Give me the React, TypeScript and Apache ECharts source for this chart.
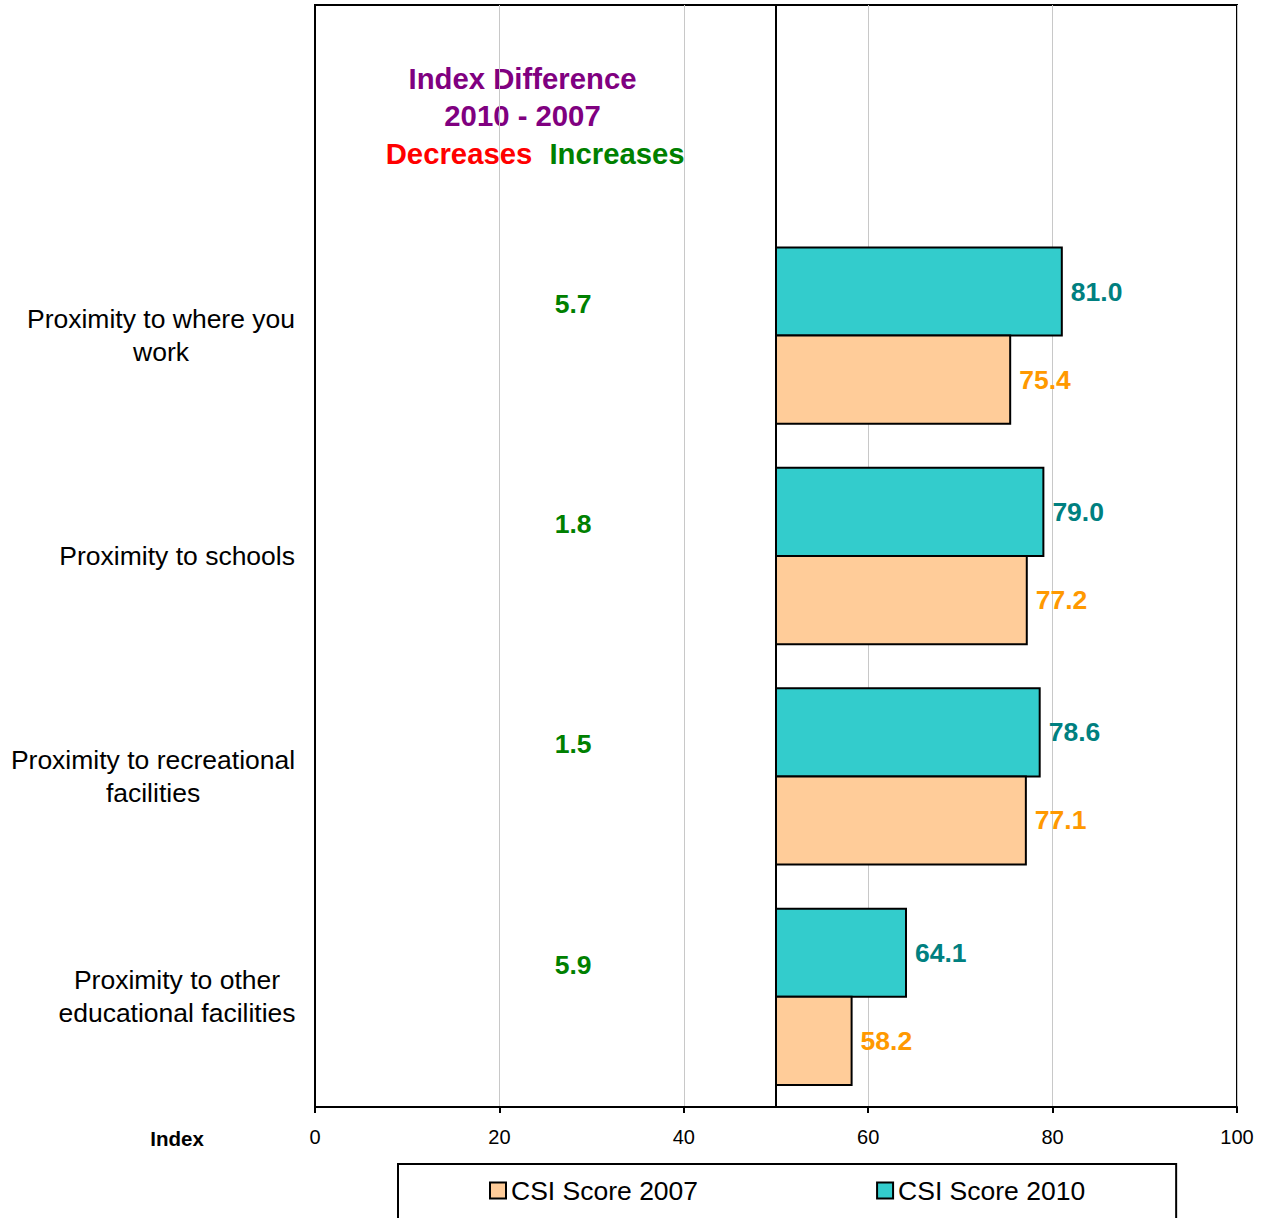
import React, { useEffect, useRef } from "react";
import * as echarts from "echarts";

const categories = [
  "",
  "Proximity to where you\nwork",
  "Proximity to schools",
  "Proximity to recreational\nfacilities",
  "Proximity to other\neducational facilities",
];
const score2010 = [81.0, 79.0, 78.6, 64.1];
const score2007 = [75.4, 77.2, 77.1, 58.2];
const indexDiff = [5.7, 1.8, 1.5, 5.9];
const xTicks = [0, 20, 40, 60, 80, 100];

const BASE = 50;
const DIFF_X = 28;
const FONT = "'Liberation Sans', Arial, Helvetica, sans-serif";

const TEAL = "#33CCCC";
const PEACH = "#FFCC99";
const TEAL_LABEL = "#008080";
const ORANGE_LABEL = "#FF9900";
const GREEN = "#008000";
const PURPLE = "#800080";
const RED = "#FF0000";

function barSeries(name: string, values: number[], fill: string, labelColor: string, upper: boolean) {
  return {
    name,
    type: "custom",
    itemStyle: { color: fill, borderColor: "#000", borderWidth: 2 },
    encode: { x: 0, y: 1 },
    data: values.map((v, i) => [v, i + 1]),
    renderItem: (params: any, api: any) => {
      const v = api.value(0);
      const c = api.value(1);
      const start = api.coord([BASE, c]);
      const end = api.coord([v, c]);
      const band = api.size([0, 1])[1];
      const h = band * 0.4;
      const y = upper ? start[1] - h : start[1];
      return {
        type: "group",
        children: [
          {
            type: "rect",
            shape: { x: start[0], y, width: end[0] - start[0], height: h },
            style: { fill, stroke: "#000", lineWidth: 2 },
          },
          {
            type: "text",
            style: {
              text: v.toFixed(1),
              x: end[0] + 9,
              y: y + h / 2,
              align: "left",
              verticalAlign: "middle",
              fill: labelColor,
              fontSize: 26.5,
              fontWeight: "bold",
              fontFamily: FONT,
            },
          },
        ],
      };
    },
  };
}

export default function App() {
  const ref = useRef<HTMLDivElement>(null);

  useEffect(() => {
    if (!ref.current) return;
    const chart = echarts.init(ref.current, undefined, { renderer: "svg" });

    const labelStyle = (w?: number) => ({
      fontSize: 26.5,
      fontFamily: FONT,
      color: "#000",
      lineHeight: 33,
      ...(w ? { width: w, align: "center" } : {}),
    });

    const option: any = {
      animation: false,
      backgroundColor: "#fff",
      grid: {
        left: 315,
        right: 33,
        top: 5,
        bottom: 111,
        show: true,
        borderColor: "#000",
        borderWidth: 2,
        containLabel: false,
        outerBoundsMode: "none",
      },
      xAxis: {
        type: "value",
        min: xTicks[0],
        max: xTicks[xTicks.length - 1],
        interval: 20,
        axisLine: { show: true, lineStyle: { color: "#000", width: 2 } },
        axisTick: { show: true, length: 6, lineStyle: { color: "#000", width: 2 } },
        axisLabel: { fontSize: 20, fontFamily: FONT, color: "#000", margin: 20 },
        splitLine: { show: true, lineStyle: { color: "#C8C8C8", width: 1 } },
      },
      yAxis: {
        type: "category",
        data: categories,
        inverse: true,
        axisLine: { show: true, lineStyle: { color: "#000", width: 2 } },
        axisTick: { show: false },
        splitLine: { show: false },
        axisLabel: {
          margin: 20,
          fontSize: 26.5,
          fontFamily: FONT,
          color: "#000",
          lineHeight: 33,
          formatter: (value: string, index: number) =>
            index === 0 ? "" : `{w${index}|${value}}`,
          rich: {
            w1: labelStyle(268),
            w2: labelStyle(),
            w3: labelStyle(284),
            w4: labelStyle(236),
          },
        },
      },
      legend: {
        left: 398,
        top: 1164,
        orient: "horizontal",
        padding: [13, 91, 30, 91],
        itemGap: 178,
        itemWidth: 16,
        itemHeight: 16,
        borderColor: "#000",
        borderWidth: 2,
        icon: "rect",
        textStyle: { fontSize: 26.5, fontFamily: FONT, color: "#000" },
        data: [
          { name: "CSI Score 2007", itemStyle: { color: PEACH, borderColor: "#000", borderWidth: 2 } },
          { name: "CSI Score 2010", itemStyle: { color: TEAL, borderColor: "#000", borderWidth: 2 } },
        ],
      },
      graphic: [
        {
          type: "text",
          x: 522.5,
          y: 78,
          style: {
            text: "Index Difference",
            align: "center",
            verticalAlign: "middle",
            fill: PURPLE,
            fontSize: 29.3,
            fontWeight: "bold",
            fontFamily: FONT,
          },
        },
        {
          type: "text",
          x: 522.5,
          y: 115,
          style: {
            text: "2010 - 2007",
            align: "center",
            verticalAlign: "middle",
            fill: PURPLE,
            fontSize: 29.3,
            fontWeight: "bold",
            fontFamily: FONT,
          },
        },
        {
          type: "text",
          x: 459,
          y: 153,
          style: {
            text: "Decreases",
            align: "center",
            verticalAlign: "middle",
            fill: RED,
            fontSize: 29.3,
            fontWeight: "bold",
            fontFamily: FONT,
          },
        },
        {
          type: "text",
          x: 617,
          y: 153,
          style: {
            text: "Increases",
            align: "center",
            verticalAlign: "middle",
            fill: GREEN,
            fontSize: 29.3,
            fontWeight: "bold",
            fontFamily: FONT,
          },
        },
        {
          type: "text",
          x: 177,
          y: 1138,
          style: {
            text: "Index",
            align: "center",
            verticalAlign: "middle",
            fill: "#000",
            fontSize: 20.5,
            fontWeight: "bold",
            fontFamily: FONT,
          },
        },
      ],
      series: [
        {
          ...barSeries("CSI Score 2010", score2010, TEAL, TEAL_LABEL, true),
          markLine: {
            silent: true,
            symbol: ["none", "none"],
            label: { show: false },
            lineStyle: { color: "#000", type: "solid", width: 2 },
            data: [{ xAxis: BASE }],
          },
        },
        barSeries("CSI Score 2007", score2007, PEACH, ORANGE_LABEL, false),
        {
          name: "Index Difference",
          type: "custom",
          encode: { x: 0, y: 1 },
          data: indexDiff.map((d, i) => [DIFF_X, i + 1, d]),
          renderItem: (params: any, api: any) => {
            const p = api.coord([api.value(0), api.value(1)]);
            const band = api.size([0, 1])[1];
            return {
              type: "text",
              style: {
                text: api.value(2).toFixed(1),
                x: p[0],
                y: p[1] - band * 0.145,
                align: "center",
                verticalAlign: "middle",
                fill: GREEN,
                fontSize: 26.5,
                fontWeight: "bold",
                fontFamily: FONT,
              },
            };
          },
        },
      ],
    };

    chart.setOption(option);
    return () => chart.dispose();
  }, []);

  return (
    <div
      ref={ref}
      style={{ position: "absolute", left: 0, top: 0, width: 1270, height: 1218 }}
    />
  );
}
